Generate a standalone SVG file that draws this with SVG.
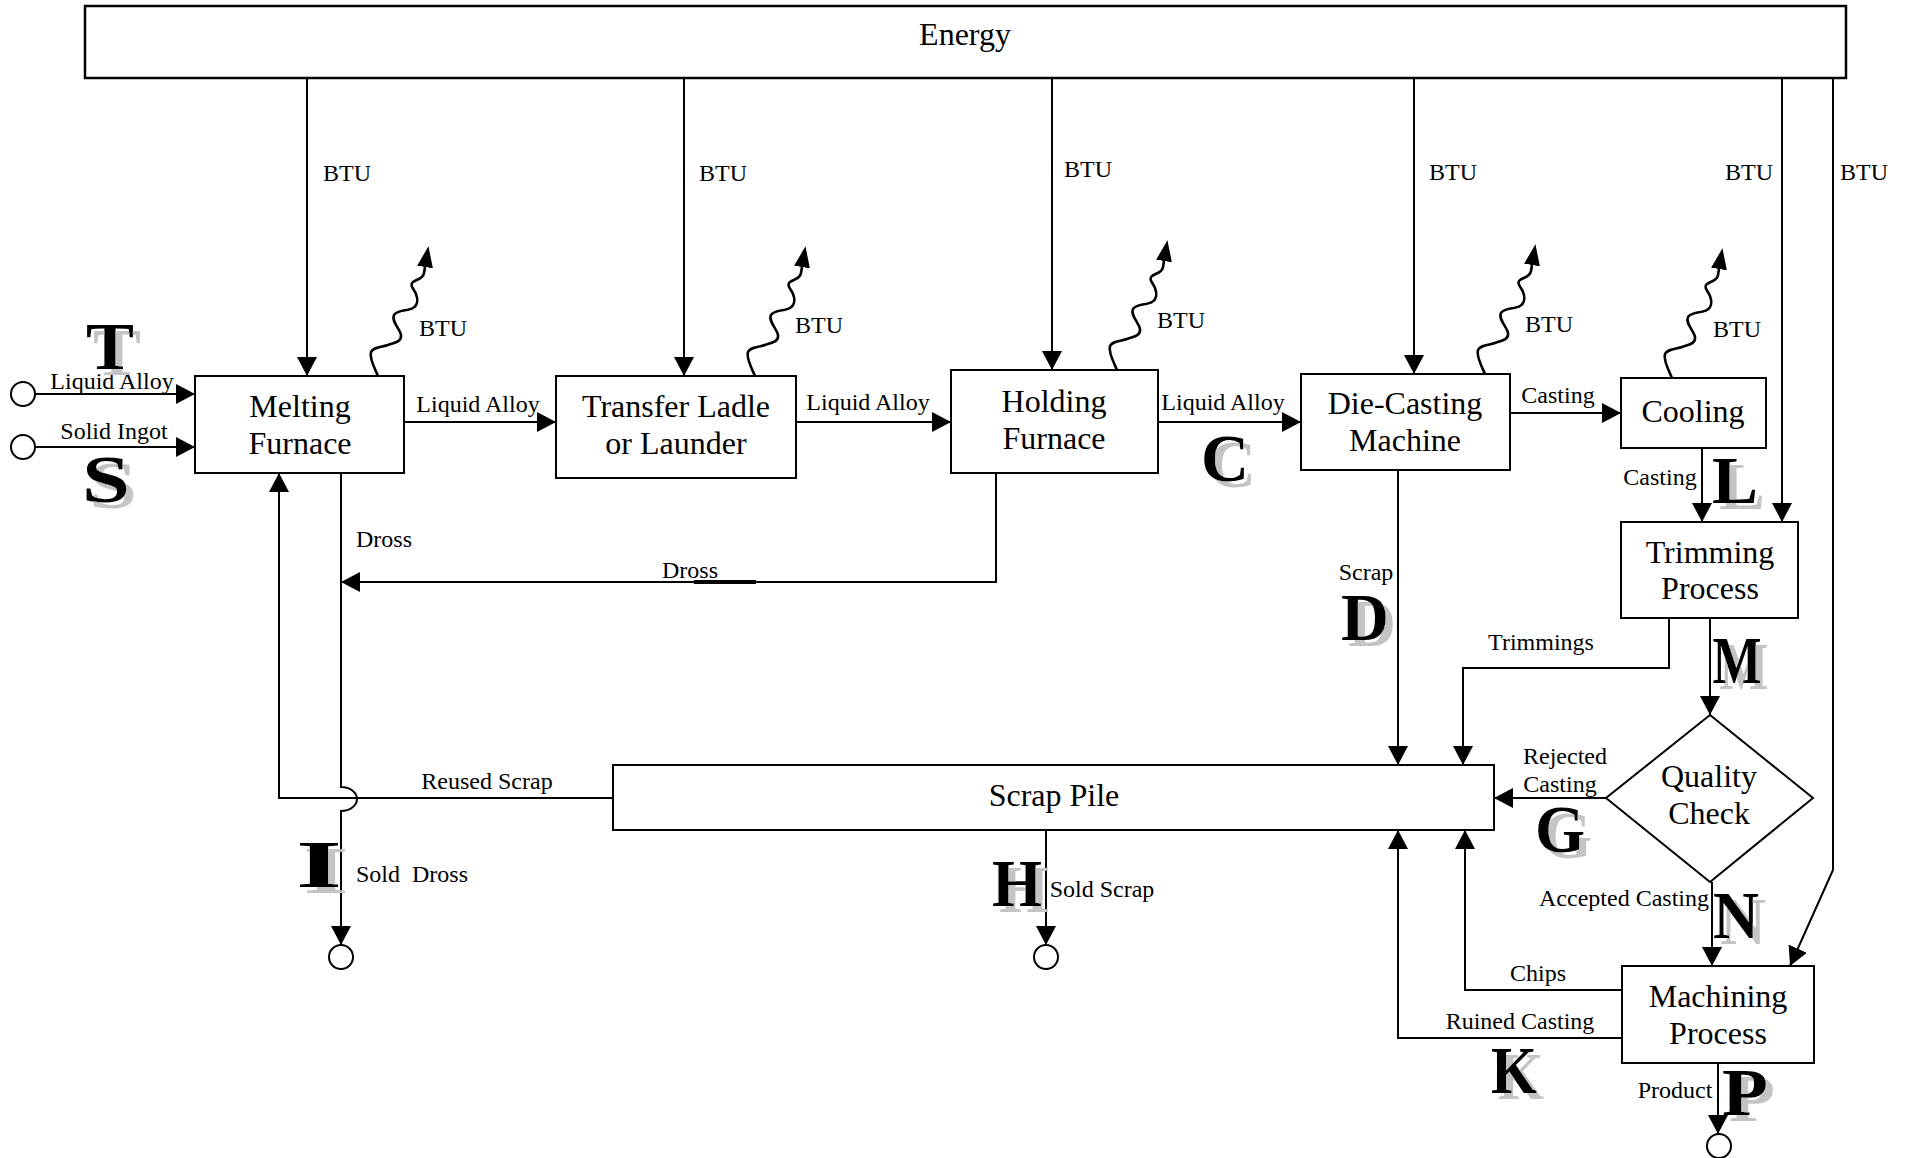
<svg xmlns="http://www.w3.org/2000/svg" width="1911" height="1158" viewBox="0 0 1911 1158">
<style>
.box{fill:#fff;stroke:#000;stroke-width:2}
.ln{fill:none;stroke:#000;stroke-width:2}
.wave{fill:none;stroke:#000;stroke-width:2.6}
.nt{font-family:"Liberation Serif","Times New Roman",serif;font-size:32px;text-anchor:middle;fill:#000}
.et{font-family:"Liberation Serif","Times New Roman",serif;font-size:24px;text-anchor:middle;fill:#000}
.big{font-family:"Liberation Serif","Times New Roman",serif;font-weight:bold;font-size:68px;text-anchor:middle;fill:#000;filter:url(#shd)}
.term{fill:#fff;stroke:#000;stroke-width:2}
</style>
<defs>
<filter id="shd" x="-30%" y="-30%" width="170%" height="170%">
<feOffset in="SourceAlpha" dx="7" dy="6" result="o"/>
<feFlood flood-color="#c4c4c4"/>
<feComposite in2="o" operator="in" result="s"/>
<feMerge><feMergeNode in="s"/><feMergeNode in="SourceGraphic"/></feMerge>
</filter>
<marker id="ah" markerUnits="userSpaceOnUse" markerWidth="19" markerHeight="20" viewBox="0 0 19 20" refX="19" refY="10" orient="auto"><path d="M0,0L19,10L0,20z" fill="#000"/></marker>
<marker id="ahw" markerUnits="userSpaceOnUse" markerWidth="21" markerHeight="16" viewBox="0 0 21 16" refX="0" refY="8" orient="auto"><path d="M0,0L21,8L0,16z" fill="#000"/></marker>
<path id="wv" d="M0,0 C-3,-7 -9,-18 -7,-24 C-5,-29 4,-29 10,-31 C16,-33 24,-34 23,-41 C22,-47 13,-55 16,-61 C19,-66 30,-65 35,-68 C40,-71 40,-77 38,-82 C36,-87 31,-91 35,-94 C39,-97 45,-97 46,-103 L47,-109"/>
</defs>

<g id="connectors">
<path class="ln" d="M35,394H195" marker-end="url(#ah)"/>
<path class="ln" d="M35,447H195" marker-end="url(#ah)"/>
<path class="ln" d="M404,422H556" marker-end="url(#ah)"/>
<path class="ln" d="M796,422H951" marker-end="url(#ah)"/>
<path class="ln" d="M1158,422H1301" marker-end="url(#ah)"/>
<path class="ln" d="M1510,413H1621" marker-end="url(#ah)"/>
<path class="ln" d="M1702,448V522" marker-end="url(#ah)"/>
<path class="ln" d="M307,78V376" marker-end="url(#ah)"/>
<path class="ln" d="M684,78V376" marker-end="url(#ah)"/>
<path class="ln" d="M1052,78V370" marker-end="url(#ah)"/>
<path class="ln" d="M1414,78V374" marker-end="url(#ah)"/>
<path class="ln" d="M1782,78V522" marker-end="url(#ah)"/>
<path class="ln" d="M1833,78V870L1790,966" marker-end="url(#ah)"/>
<path class="ln" d="M1710,618V715" marker-end="url(#ah)"/>
<path class="ln" d="M1669,618V668H1463V765" marker-end="url(#ah)"/>
<path class="ln" d="M1398,470V765" marker-end="url(#ah)"/>
<path class="ln" d="M1606,798H1494" marker-end="url(#ah)"/>
<path class="ln" d="M1712,882V966" marker-end="url(#ah)"/>
<path class="ln" d="M1622,990H1465V830" marker-end="url(#ah)"/>
<path class="ln" d="M1622,1038H1398V830" marker-end="url(#ah)"/>
<path class="ln" d="M1718,1063V1134" marker-end="url(#ah)"/>
<path class="ln" d="M1046,830V945" marker-end="url(#ah)"/>
<path class="ln" d="M341,473V787A16,12 0 0 1 341,811V945" marker-end="url(#ah)"/>
<path class="ln" d="M996,473V582H341" marker-end="url(#ah)"/>
<path class="ln" d="M694,582H756" style="stroke-width:4"/>
<path class="ln" d="M613,798H279V473" marker-end="url(#ah)"/>
<circle class="term" cx="23" cy="394" r="12"/>
<circle class="term" cx="23" cy="447" r="12"/>
<circle class="term" cx="1719" cy="1146" r="12"/>
<circle class="term" cx="1046" cy="957" r="12"/>
<circle class="term" cx="341" cy="957" r="12"/>
<use href="#wv" class="wave" transform="translate(378,376)" marker-end="url(#ahw)"/>
<use href="#wv" class="wave" transform="translate(755,376)" marker-end="url(#ahw)"/>
<use href="#wv" class="wave" transform="translate(1117,370)" marker-end="url(#ahw)"/>
<use href="#wv" class="wave" transform="translate(1485,374)" marker-end="url(#ahw)"/>
<use href="#wv" class="wave" transform="translate(1672,378)" marker-end="url(#ahw)"/>
</g>

<g id="edge-labels">
<text class="et" x="347" y="181">BTU</text>
<text class="et" x="723" y="181">BTU</text>
<text class="et" x="1088" y="177">BTU</text>
<text class="et" x="1453" y="180">BTU</text>
<text class="et" x="1749" y="180">BTU</text>
<text class="et" x="1864" y="180">BTU</text>
<text class="et" x="443" y="336">BTU</text>
<text class="et" x="819" y="333">BTU</text>
<text class="et" x="1181" y="328">BTU</text>
<text class="et" x="1549" y="332">BTU</text>
<text class="et" x="1737" y="337">BTU</text>
<text class="et" x="112" y="389">Liquid Alloy</text>
<text class="et" x="114" y="439">Solid Ingot</text>
<text class="et" x="478" y="412">Liquid Alloy</text>
<text class="et" x="868" y="410">Liquid Alloy</text>
<text class="et" x="1223" y="410">Liquid Alloy</text>
<text class="et" x="1558" y="403">Casting</text>
<text class="et" x="1660" y="485">Casting</text>
<text class="et" x="1366" y="580">Scrap</text>
<text class="et" x="1541" y="650">Trimmings</text>
<text class="et" x="1565" y="764">Rejected</text>
<text class="et" x="1560" y="792">Casting</text>
<text class="et" x="1624" y="906">Accepted Casting</text>
<text class="et" x="1538" y="981">Chips</text>
<text class="et" x="1520" y="1029">Ruined Casting</text>
<text class="et" x="1675" y="1098">Product</text>
<text class="et" x="1102" y="897">Sold Scrap</text>
<text class="et" x="412" y="882" xml:space="preserve">Sold  Dross</text>
<text class="et" x="384" y="547">Dross</text>
<text class="et" x="690" y="578">Dross</text>
<text class="et" x="487" y="789">Reused Scrap</text>
</g>

<g id="stream-letters">
<text class="big" x="110" y="369" textLength="48" lengthAdjust="spacingAndGlyphs">T</text>
<text class="big" x="106" y="502" textLength="48" lengthAdjust="spacingAndGlyphs">S</text>
<text class="big" x="1225" y="481" textLength="48" lengthAdjust="spacingAndGlyphs">C</text>
<text class="big" x="1735" y="503" textLength="46" lengthAdjust="spacingAndGlyphs">L</text>
<text class="big" x="1365" y="640" textLength="48" lengthAdjust="spacingAndGlyphs">D</text>
<text class="big" x="1737" y="683" textLength="49" lengthAdjust="spacingAndGlyphs">M</text>
<text class="big" x="1560" y="852" textLength="50" lengthAdjust="spacingAndGlyphs">G</text>
<text class="big" x="1736" y="938" textLength="46" lengthAdjust="spacingAndGlyphs">N</text>
<text class="big" x="1514" y="1093" textLength="46" lengthAdjust="spacingAndGlyphs">K</text>
<text class="big" x="1745" y="1115" textLength="46" lengthAdjust="spacingAndGlyphs">P</text>
<text class="big" x="1017" y="906" textLength="50" lengthAdjust="spacingAndGlyphs">H</text>
<text class="big" x="319" y="887" textLength="46" lengthAdjust="spacingAndGlyphs">I</text>
</g>

<g id="energy"><rect class="box" x="85" y="6" width="1761" height="72" style="stroke-width:2.5"/><text class="nt" x="965" y="45">Energy</text></g>
<g id="melting-furnace"><rect class="box" x="195" y="376" width="209" height="97"/><text class="nt" x="300" y="417">Melting</text><text class="nt" x="300" y="454">Furnace</text></g>
<g id="transfer-ladle"><rect class="box" x="556" y="376" width="240" height="102"/><text class="nt" x="676" y="417">Transfer Ladle</text><text class="nt" x="676" y="454">or Launder</text></g>
<g id="holding-furnace"><rect class="box" x="951" y="370" width="207" height="103"/><text class="nt" x="1054" y="412">Holding</text><text class="nt" x="1054" y="449">Furnace</text></g>
<g id="die-casting"><rect class="box" x="1301" y="374" width="209" height="96"/><text class="nt" x="1405" y="414">Die-Casting</text><text class="nt" x="1405" y="451">Machine</text></g>
<g id="cooling"><rect class="box" x="1621" y="378" width="145" height="70"/><text class="nt" x="1693" y="422">Cooling</text></g>
<g id="trimming"><rect class="box" x="1621" y="522" width="177" height="96"/><text class="nt" x="1710" y="563">Trimming</text><text class="nt" x="1710" y="599">Process</text></g>
<g id="quality-check"><path class="box" d="M1710,715L1813,798L1710,882L1606,798z"/><text class="nt" x="1709" y="787">Quality</text><text class="nt" x="1709" y="824">Check</text></g>
<g id="machining"><rect class="box" x="1622" y="966" width="192" height="97"/><text class="nt" x="1718" y="1007">Machining</text><text class="nt" x="1718" y="1044">Process</text></g>
<g id="scrap-pile"><rect class="box" x="613" y="765" width="881" height="65"/><text class="nt" x="1054" y="806">Scrap Pile</text></g>
</svg>
